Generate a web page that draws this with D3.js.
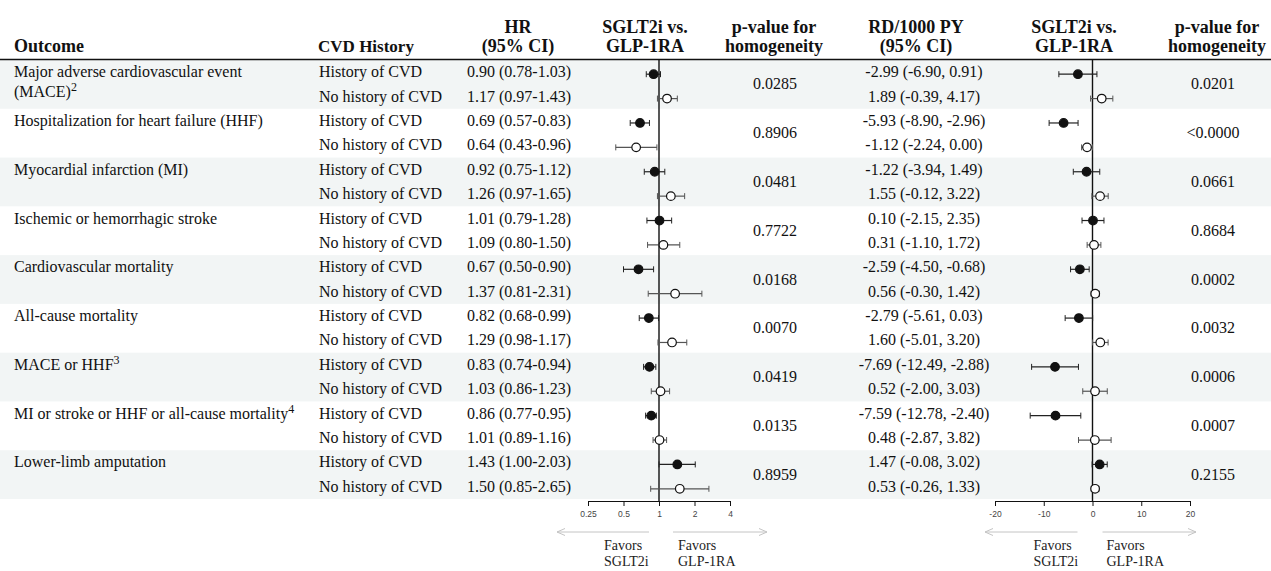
<!DOCTYPE html>
<html>
<head>
<meta charset="utf-8">
<script src="https://cdn.jsdelivr.net/npm/d3@7"></script>
<style>
	body { margin: 0; background: #fff; }
	text { font-family: "Liberation Serif", "Times New Roman", serif; fill: #111; }
	.hdr { font-weight: bold; font-size: 18px; }
	.cell { font-size: 16px; }
	.tick text { font-family: "Liberation Sans", Arial, sans-serif; font-size: 8.5px; fill: #444; }
	.fav { font-size: 14px; fill: #222; }
</style>
</head>
<body>
<svg id="chart" width="1271" height="571"></svg>
<script>

// outcome groups (two rows each: history / no history of CVD)
var outcomes = [
	["Major adverse cardiovascular event", "(MACE)"],
	["Hospitalization for heart failure (HHF)"],
	["Myocardial infarction (MI)"],
	["Ischemic or hemorrhagic stroke"],
	["Cardiovascular mortality"],
	["All-cause mortality"],
	["MACE or HHF"],
	["MI or stroke or HHF or all-cause mortality"],
	["Lower-limb amputation"],
];
var outcomeSup = ["2", "", "", "", "", "", "3", "4", ""];
var cvdGroups = ["History of CVD", "No history of CVD"];

var hrText = [
	"0.90 (0.78-1.03)", "1.17 (0.97-1.43)",
	"0.69 (0.57-0.83)", "0.64 (0.43-0.96)",
	"0.92 (0.75-1.12)", "1.26 (0.97-1.65)",
	"1.01 (0.79-1.28)", "1.09 (0.80-1.50)",
	"0.67 (0.50-0.90)", "1.37 (0.81-2.31)",
	"0.82 (0.68-0.99)", "1.29 (0.98-1.17)",
	"0.83 (0.74-0.94)", "1.03 (0.86-1.23)",
	"0.86 (0.77-0.95)", "1.01 (0.89-1.16)",
	"1.43 (1.00-2.03)", "1.50 (0.85-2.65)",
];
// plotted HR (as drawn)
var hr   = [0.90, 1.17, 0.69, 0.64, 0.92, 1.26, 1.01, 1.09, 0.67, 1.37, 0.82, 1.29, 0.83, 1.03, 0.86, 1.01, 1.43, 1.50];
var hrLo = [0.78, 0.97, 0.57, 0.43, 0.75, 0.97, 0.79, 0.80, 0.50, 0.81, 0.68, 0.98, 0.74, 0.86, 0.77, 0.89, 1.00, 0.85];
var hrHi = [1.03, 1.43, 0.83, 0.96, 1.12, 1.65, 1.28, 1.50, 0.90, 2.31, 0.99, 1.72, 0.94, 1.23, 0.95, 1.16, 2.03, 2.65];
var pHR = ["0.0285", "0.8906", "0.0481", "0.7722", "0.0168", "0.0070", "0.0419", "0.0135", "0.8959"];

var rdText = [
	"-2.99 (-6.90, 0.91)", "1.89 (-0.39, 4.17)",
	"-5.93 (-8.90, -2.96)", "-1.12 (-2.24, 0.00)",
	"-1.22 (-3.94, 1.49)", "1.55 (-0.12, 3.22)",
	"0.10 (-2.15, 2.35)", "0.31 (-1.10, 1.72)",
	"-2.59 (-4.50, -0.68)", "0.56 (-0.30, 1.42)",
	"-2.79 (-5.61, 0.03)", "1.60 (-5.01, 3.20)",
	"-7.69 (-12.49, -2.88)", "0.52 (-2.00, 3.03)",
	"-7.59 (-12.78, -2.40)", "0.48 (-2.87, 3.82)",
	"1.47 (-0.08, 3.02)", "0.53 (-0.26, 1.33)",
];
var rd   = [-2.99, 1.89, -5.93, -1.12, -1.22, 1.55, 0.10, 0.31, -2.59, 0.56, -2.79, 1.60, -7.69, 0.52, -7.59, 0.48, 1.47, 0.53];
var rdLo = [-6.90, -0.39, -8.90, -2.24, -3.94, -0.12, -2.15, -1.10, -4.50, -0.30, -5.61, 0.01, -12.49, -2.00, -12.78, -2.87, -0.08, -0.26];
var rdHi = [0.91, 4.17, -2.96, 0.00, 1.49, 3.22, 2.35, 1.72, -0.68, 1.42, 0.03, 3.20, -2.88, 3.03, -2.40, 3.82, 3.02, 1.33];
var pRD = ["0.0201", "<0.0000", "0.0661", "0.8684", "0.0002", "0.0032", "0.0006", "0.0007", "0.2155"];

var hrTicks = [0.25, 0.5, 1, 2, 4];
var rdTicks = [-20, -10, 0, 10, 20];

function draw() {

	var svg = d3.select("#chart");
	var W = 1271;
	var nrows = hr.length;

	var y = d3.scaleLinear([0, nrows], [60, 499]);
	var xHR = d3.scaleLog([0.25, 4], [588, 730]);
	var xRD = d3.scaleLinear([-20, 20], [995, 1190]);

	// shaded bands
	svg.selectAll(".band")
	.data(outcomes.map((d, i) => i).filter(i => i % 2 === 0))
	.join("rect")
		.attr("class", "band")
		.attr("x", 0)
		.attr("width", W)
		.attr("y", g => y(g * 2))
		.attr("height", g => y(g * 2 + 2) - y(g * 2))
		.attr("fill", "#f2f5f5");

	// header
	var hdr = [
		{ t: ["Outcome"], x: 14, a: "start" },
		{ t: ["CVD History"], x: 366, a: "middle", fs: 17 },
		{ t: ["HR", "(95% CI)"], x: 518, a: "middle" },
		{ t: ["SGLT2i vs.", "GLP-1RA"], x: 645, a: "middle" },
		{ t: ["p-value for", "homogeneity"], x: 774, a: "middle" },
		{ t: ["RD/1000 PY", "(95% CI)"], x: 916, a: "middle" },
		{ t: ["SGLT2i vs.", "GLP-1RA"], x: 1074, a: "middle" },
		{ t: ["p-value for", "homogeneity"], x: 1217, a: "middle" },
	];
	hdr.forEach(h => {
		h.t.forEach((s, k) => {
			svg.append("text")
				.attr("class", "hdr")
				.attr("x", h.x)
				.attr("y", h.t.length === 1 ? 52 : 33 + k * 19)
				.attr("text-anchor", h.a)
				.style("font-size", h.fs ? h.fs + "px" : null)
				.text(s);
		});
	});

	svg.append("line")
		.attr("x1", 0).attr("x2", W)
		.attr("y1", 59.5).attr("y2", 59.5)
		.attr("stroke", "#111")
		.attr("stroke-width", 1.6);

	var rowY = i => (y(i) + y(i + 1)) / 2;

	// outcome labels
	outcomes.forEach((lines, g) => {
		var lastLine;
		lines.forEach((s, k) => {
			lastLine = svg.append("text")
				.attr("class", "cell")
				.attr("x", 14)
				.attr("y", rowY(g * 2) + 5 + k * 20)
				.text(s);
		});
		if (outcomeSup[g])
			lastLine.append("tspan")
				.attr("dy", -6)
				.style("font-size", "12px")
				.text(outcomeSup[g]);
	});

	// row texts
	svg.selectAll(".cvd")
	.data(hr)
	.join("text")
		.attr("class", "cell cvd")
		.attr("x", 319)
		.attr("y", (d, i) => rowY(i) + 5)
		.text((d, i) => cvdGroups[i % 2]);

	svg.selectAll(".hrt")
	.data(hrText)
	.join("text")
		.attr("class", "cell hrt")
		.attr("x", 467)
		.attr("y", (d, i) => rowY(i) + 5)
		.text(d => d);

	svg.selectAll(".rdt")
	.data(rdText)
	.join("text")
		.attr("class", "cell rdt")
		.attr("x", 924)
		.attr("text-anchor", "middle")
		.attr("y", (d, i) => rowY(i) + 5)
		.text(d => d);

	[[pHR, 775], [pRD, 1213]].forEach(([arr, px]) => {
		svg.append("g").selectAll("text")
		.data(arr)
		.join("text")
			.attr("class", "cell")
			.attr("x", px)
			.attr("text-anchor", "middle")
			.attr("y", (d, g) => y(g * 2 + 1) + 5)
			.text(d => d);
	});

	// arrow marker
	svg.append("defs").append("marker")
		.attr("id", "arr")
		.attr("viewBox", "0 0 10 10")
		.attr("refX", 9).attr("refY", 5)
		.attr("markerWidth", 10).attr("markerHeight", 10)
		.attr("markerUnits", "userSpaceOnUse")
		.attr("orient", "auto")
		.append("path")
		.attr("d", "M1,1.5 L9,5 L1,8.5")
		.attr("fill", "none")
		.attr("stroke", "#c4c4c4")
		.attr("stroke-width", 1);

	// o: arrow and label offsets around the reference line
	function forest(x, ticks, est, lo, hi, ref, o) {

		var g = svg.append("g");

		g.append("g")
			.attr("transform", `translate(0, ${y(nrows) + 2})`)
			.call(d3.axisBottom(x).tickValues(ticks).tickFormat(d => String(d)).tickSizeOuter(0).tickSize(5).tickPadding(5))
			.call(a => a.select(".domain").attr("stroke", "#111"))
			.call(a => a.selectAll(".tick line").attr("stroke", "#111"));

		g.append("line")
			.attr("x1", x(ref)).attr("x2", x(ref))
			.attr("y1", 60).attr("y2", y(nrows) + 2)
			.attr("stroke", "#111")
			.attr("stroke-width", 1.4);

		var rows = g.selectAll(".ci")
		.data(est)
		.join("g")
			.attr("class", "ci")
			.attr("transform", (d, i) => `translate(0, ${rowY(i) + 2})`);

		rows.append("line")
			.attr("x1", (d, i) => x(lo[i]))
			.attr("x2", (d, i) => x(hi[i]))
			.attr("stroke", (d, i) => i % 2 ? "#555" : "#222")
			.attr("stroke-width", 1.2);

		[lo, hi].forEach(arr => {
			rows.append("line")
				.attr("x1", (d, i) => x(arr[i]))
				.attr("x2", (d, i) => x(arr[i]))
				.attr("y1", -3).attr("y2", 3)
				.attr("stroke", (d, i) => i % 2 ? "#555" : "#222")
				.attr("stroke-width", 1);
		});

		rows.append("circle")
			.attr("cx", d => x(d))
			.attr("r", 4.3)
			.attr("fill", (d, i) => i % 2 ? "#fff" : "#111")
			.attr("stroke", "#111")
			.attr("stroke-width", 1.2);

		// favors arrows
		var [r0, r1] = x.range();
		var xc = x(ref);
		var ay = 532;
		g.append("line")
			.attr("x1", xc - o.l0).attr("x2", r0 - o.l1)
			.attr("y1", ay).attr("y2", ay)
			.attr("stroke", "#c4c4c4")
			.attr("marker-end", "url(#arr)");
		g.append("line")
			.attr("x1", xc + o.r0).attr("x2", r1 + o.r1)
			.attr("y1", ay).attr("y2", ay)
			.attr("stroke", "#c4c4c4")
			.attr("marker-end", "url(#arr)");

		[[["Favors", "SGLT2i"], xc - o.fl], [["Favors", "GLP-1RA"], xc + o.fr]].forEach(([lines, fx]) => {
			lines.forEach((s, k) => {
				g.append("text")
					.attr("class", "fav")
					.attr("x", fx)
					.attr("y", 550 + k * 16)
					.text(s);
			});
		});
	}

	forest(xHR, hrTicks, hr, hrLo, hrHi, 1, { l0: 10, l1: 31, r0: 14, r1: 37, fl: 55, fr: 19 });
	forest(xRD, rdTicks, rd, rdLo, rdHi, 0, { l0: 15, l1: 10, r0: 10, r1: 6, fl: 59, fr: 14 });

}

draw();

</script>
</body>
</html>
